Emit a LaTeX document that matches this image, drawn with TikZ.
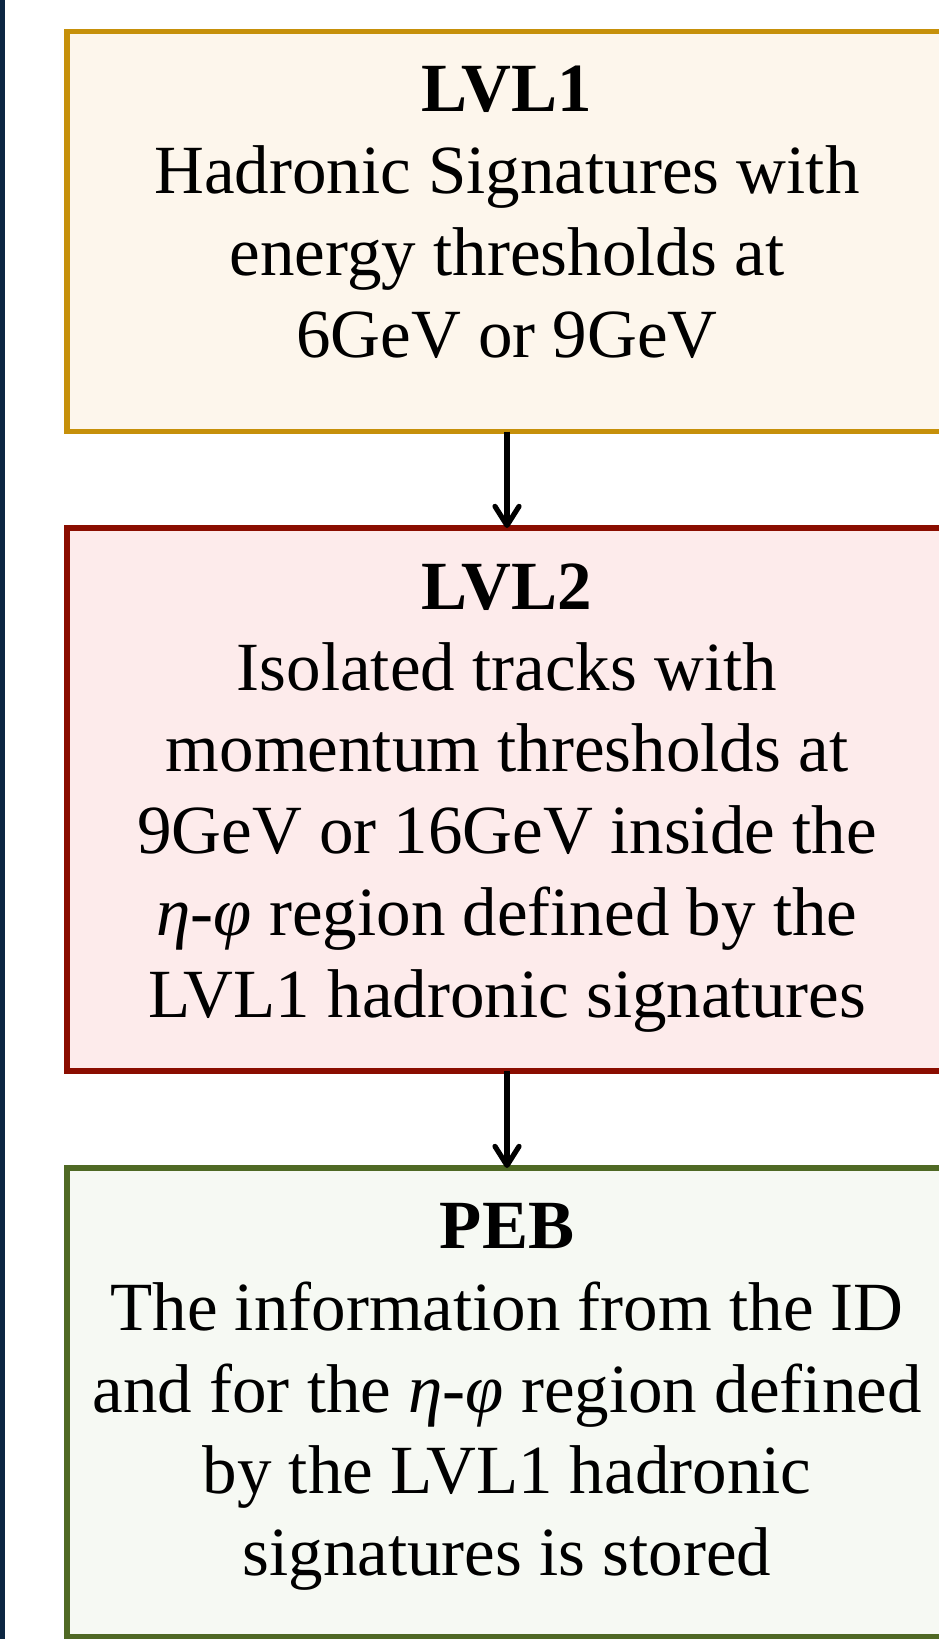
\documentclass[tikz,border=0pt]{standalone}
\usepackage{fontspec}
\setmainfont{Liberation Serif}
\usetikzlibrary{arrows.meta}
\definecolor{navy}{HTML}{0C2642}
\definecolor{goldline}{HTML}{C6900A}
\definecolor{goldfill}{HTML}{FDF6EC}
\definecolor{redline}{HTML}{8A0D00}
\definecolor{redfill}{HTML}{FDEBEB}
\definecolor{greenline}{HTML}{4F6924}
\definecolor{greenfill}{HTML}{F6F9F3}
\begin{document}
\begin{tikzpicture}[x=1pt,y=-1pt,
  box/.style={draw,rectangle,line width=5.5pt,minimum width=880pt,inner sep=0pt,outer sep=0pt},
  txt/.style={anchor=base,inner sep=0pt,font=\fontsize{69}{82}\selectfont},
  arr/.style={line width=5.2pt,-{Straight Barb[length=19pt,width=24pt,line cap=round,line join=round]}}]
\useasboundingbox (0,0) rectangle (939,1639);
\clip (0,0) rectangle (939,1639);
\fill[navy] (0,0) rectangle (5,1639);
% boxes
\node[box,draw=goldline,fill=goldfill,minimum height=400pt] (b1) at (507,231.5) {};
\node[box,draw=redline,fill=redfill,minimum height=543pt] (b2) at (507,799.5) {};
\node[box,draw=greenline,fill=greenfill,minimum height=469pt] (b3) at (507,1402.5) {};
% arrows
\draw[arr] (b1.south) -- (b2.north);
\draw[arr] (b2.south) -- (b3.north);
% texts box 1
\node[txt] (t1a) at (507,111) {\textbf{LVL1}};
\node[txt] (t1b) at (507,193) {Hadronic Signatures with};
\node[txt] (t1c) at (507,275) {energy thresholds at};
\node[txt] (t1d) at (507,357) {6GeV or 9GeV};
% texts box 2
\node[txt] (t2a) at (507,609) {\textbf{LVL2}};
\node[txt] (t2b) at (507,690) {Isolated tracks with};
\node[txt] (t2c) at (507,771) {momentum thresholds at};
\node[txt] (t2d) at (507,853) {9GeV or 16GeV inside the};
\node[txt] (t2e) at (507,935) {\textit{η-φ} region defined by the};
\node[txt] (t2f) at (507,1017) {LVL1 hadronic signatures};
% texts box 3
\node[txt] (t3a) at (507,1248) {\textbf{PEB}};
\node[txt] (t3b) at (507,1330) {The information from the ID};
\node[txt] (t3c) at (507,1412) {and for the \textit{η-φ} region defined};
\node[txt] (t3d) at (507,1493) {by the LVL1 hadronic};
\node[txt] (t3e) at (507,1575) {signatures is stored};
\end{tikzpicture}
\end{document}
